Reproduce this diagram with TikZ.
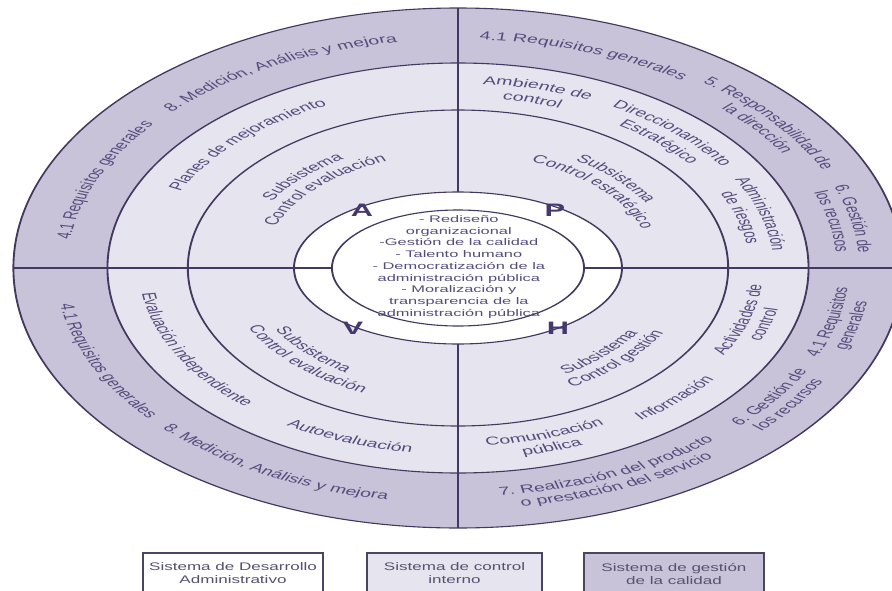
\documentclass[tikz,border=0pt]{standalone}
\usepackage{fontspec}
\setmainfont{Liberation Sans}
\usetikzlibrary{decorations.text}
\definecolor{ringdark}{HTML}{C9C3DA}
\definecolor{ringlight}{HTML}{E6E4EE}
\definecolor{linec}{HTML}{43385F}
\definecolor{txtc}{HTML}{564C7C}
\definecolor{lettc}{HTML}{44386C}
\definecolor{legtxt}{HTML}{57506F}
\definecolor{legline}{HTML}{4A4560}
\newcommand\ringfont{\fontsize{11.5}{13}\selectfont\color{txtc}}
\newcommand\ringtop[3]{%
  \pgfmathsetmacro\rgRad{#1-3.5}%
  \pgfmathsetmacro\rgSa{#2+60}%
  \pgfmathsetmacro\rgEa{#2-60}%
  \path[decorate,decoration={text along path,text align=center,text={|\ringfont|#3}}]
    (\rgSa:\rgRad) arc[start angle=\rgSa,end angle=\rgEa,radius=\rgRad];
}
\newcommand\ringbot[3]{%
  \pgfmathsetmacro\rgRad{#1+3.5}%
  \pgfmathsetmacro\rgSa{#2-60}%
  \pgfmathsetmacro\rgEa{#2+60}%
  \path[decorate,decoration={text along path,text align=center,text={|\ringfont|#3}}]
    (\rgSa:\rgRad) arc[start angle=\rgSa,end angle=\rgEa,radius=\rgRad];
}
\begin{document}
\begin{tikzpicture}[x=1pt,y=1pt,
  outline/.style={draw=linec,line width=1.1pt},
  lett/.style={font=\fontsize{18}{18}\selectfont\bfseries,text=lettc,inner sep=0pt},
  core/.style={align=center,text=txtc,font=\fontsize{9.6}{11.75}\selectfont},
  legbox/.style={draw=legline,line width=1.1pt},
  legtext/.style={align=center,text=legtxt,font=\fontsize{11}{13}\selectfont}]
\useasboundingbox (-458,-322) rectangle (434,268);
\clip (-458,-322) rectangle (434,268);
\fill[white] (-458,-322) rectangle (434,268);
\begin{scope}[transform canvas={xscale=1.71}]
  % rings
  \fill[ringdark] (0,0) circle[radius=260];
  \fill[ringlight] (0,0) circle[radius=205];
  \draw[outline] (0,0) circle[radius=260];
  \draw[outline] (0,0) circle[radius=205];
  \draw[outline] (0,0) circle[radius=158];
  \filldraw[outline,fill=white] (0,0) ellipse[x radius=95.9,y radius=76];
  \draw[outline] (0,0) ellipse[x radius=73.7,y radius=58];
  % quadrant lines
  \draw[outline] (0,260) -- (0,76);
  \draw[outline] (0,-76) -- (0,-260);
  \draw[outline] (-260,0) -- (-73.7,0);
  \draw[outline] (73.7,0) -- (260,0);
  % outer ring
  \ringtop{232}{157}{4.1 Requisitos generales}
  \ringtop{232}{118}{8. Medición, Análisis y mejora}
  \ringtop{232}{71}{4.1 Requisitos generales}
  \ringtop{238}{38.5}{5. Responsabilidad de}
  \ringtop{225}{38.5}{la dirección}
  \ringtop{238}{12}{6. Gestión de}
  \ringtop{225}{12}{los recursos}
  \ringbot{225}{-14}{4.1 Requisitos}
  \ringbot{238}{-14}{generales}
  \ringbot{225}{-35.3}{6. Gestión de}
  \ringbot{238}{-35.3}{los recursos}
  \ringbot{225}{-66.5}{7. Realización del producto}
  \ringbot{238}{-66.5}{o prestación del servicio}
  \ringbot{232}{204.4}{4.1 Requisitos generales}
  \ringbot{232}{241.3}{8. Medición, Análisis y mejora}
  % middle ring
  \ringtop{183}{135}{Planes de mejoramiento}
  \ringtop{188}{75.5}{Ambiente de}
  \ringtop{174}{75.5}{control}
  \ringtop{188}{47}{Direccionamiento}
  \ringtop{174}{47}{Estratégico}
  \ringtop{188}{17}{Administración}
  \ringtop{174}{17}{de riesgos}
  \ringbot{175}{-17.5}{Actividades de}
  \ringbot{188}{-17.5}{control}
  \ringbot{183}{-45.8}{Información}
  \ringbot{175}{-73}{Comunicación}
  \ringbot{188}{-73}{pública}
  \ringbot{183}{249.5}{Autoevaluación}
  \ringbot{183}{208}{Evaluación independiente}
  % inner ring
  \ringtop{131}{135}{Subsistema}
  \ringtop{118}{135}{Control evaluación}
  \ringtop{131}{44}{Subsistema}
  \ringtop{118}{44}{Control estratégico}
  \ringbot{120}{224}{Subsistema}
  \ringbot{133}{226}{Control evaluación}
  \ringbot{120}{-45.5}{Subsistema}
  \ringbot{133}{-44.5}{Control gestión}
  % letters
  \node[lett] (lA) at (-56.1,58) {A};
  \node[lett] (lP) at (56.7,58) {P};
  \node[lett] (lV) at (-61.4,-60) {V};
  \node[lett] (lH) at (58.5,-60) {H};
  % core text
  \node[core] (corebox) at (0.5,1) {- Rediseño\\organizacional\\-Gestión de la calidad\\- Talento humano\\- Democratización de la\\administración pública\\- Moralización y\\transparencia de la\\administración pública};
\end{scope}
% legend
\draw[legbox,fill=white] (-315,-285) rectangle (-135,-345);
\draw[legbox,fill=ringlight] (-91,-285) rectangle (84,-345);
\draw[legbox,fill=ringdark] (126,-285) rectangle (306,-345);
\node[legtext] (legA) at (-225,-305.5) {\scalebox{1.55}[1]{Sistema de Desarrollo}\\\scalebox{1.55}[1]{Administrativo}};
\node[legtext] (legB) at (-3.5,-305.5) {\scalebox{1.55}[1]{Sistema de control}\\\scalebox{1.55}[1]{interno}};
\node[legtext] (legC) at (216,-305.5) {\scalebox{1.55}[1]{Sistema de gestión}\\\scalebox{1.55}[1]{de la calidad}};
\end{tikzpicture}
\end{document}
